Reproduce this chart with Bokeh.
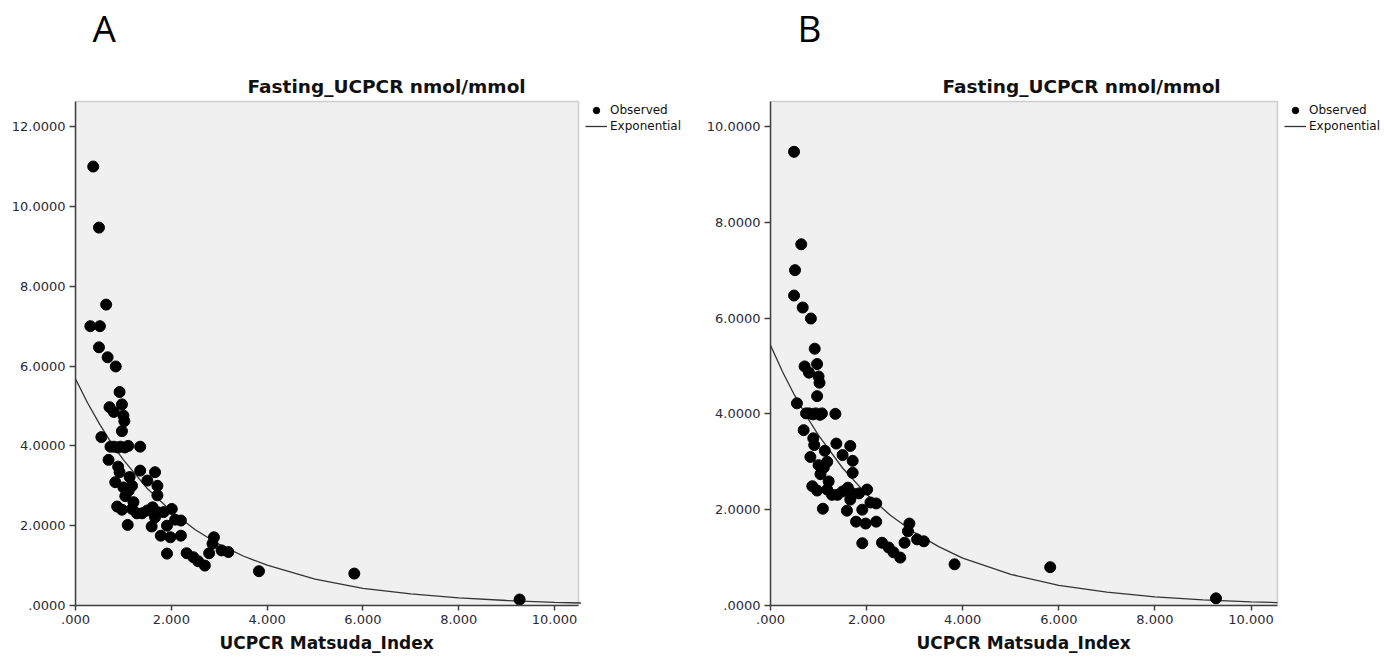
from bokeh.plotting import figure
from bokeh.models import (Range1d, FixedTicker, Legend, LegendItem, Title,
                          BoxAnnotation, Label)
from bokeh.layouts import row
from bokeh.embed import file_html
from bokeh.resources import INLINE

# ---------------- data ----------------
title_text = "Fasting_UCPCR nmol/mmol"
x_label = "UCPCR Matsuda_Index"
legend_labels = ["Observed", "Exponential"]
panel_letters = ["A", "B"]

x_ticks = [0, 2, 4, 6, 8, 10]
x_tick_labels = [".000", "2.000", "4.000", "6.000", "8.000", "10.000"]
y_ticks_a = [0, 2, 4, 6, 8, 10, 12]
y_tick_labels_a = [".0000", "2.0000", "4.0000", "6.0000", "8.0000", "10.0000", "12.0000"]
y_ticks_b = [0, 2, 4, 6, 8, 10]
y_tick_labels_b = [".0000", "2.0000", "4.0000", "6.0000", "8.0000", "10.0000"]

# Panel A observed points
obs_x_a = [0.37, 0.49, 0.64, 0.31, 0.51, 0.49, 0.67, 0.84, 0.92, 0.71, 0.80, 0.97,
           1.00, 1.02, 0.97, 0.54, 0.73, 0.80, 0.88, 0.94, 1.03, 1.10, 1.35, 0.69,
           0.89, 0.92, 0.83, 1.13, 1.35, 1.66, 1.50, 1.71, 1.71, 1.00, 1.11, 1.18,
           1.04, 1.21, 0.87, 0.97, 1.18, 1.28, 1.39, 1.50, 1.61, 1.71, 1.84, 2.01,
           1.66, 1.09, 1.59, 1.91, 2.08, 2.20, 1.78, 1.98, 2.20, 2.89, 2.86, 1.91,
           2.32, 2.46, 2.56, 2.70, 2.79, 3.05, 3.19, 3.83, 5.82, 9.27]
obs_y_a = [11.00, 9.47, 7.54, 7.00, 7.00, 6.47, 6.22, 5.99, 5.35, 4.97, 4.85, 5.04,
           4.76, 4.62, 4.37, 4.22, 3.98, 3.98, 3.96, 3.98, 3.96, 4.00, 3.98, 3.65,
           3.48, 3.34, 3.09, 3.22, 3.38, 3.34, 3.13, 3.00, 2.76, 2.96, 2.88, 3.00,
           2.74, 2.59, 2.48, 2.40, 2.42, 2.31, 2.31, 2.38, 2.46, 2.34, 2.34, 2.42,
           2.21, 2.02, 1.98, 2.00, 2.15, 2.13, 1.75, 1.71, 1.75, 1.71, 1.55, 1.30,
           1.31, 1.21, 1.11, 1.00, 1.31, 1.38, 1.34, 0.86, 0.80, 0.15]

# Panel B observed points
obs_x_b = [0.49, 0.64, 0.51, 0.49, 0.67, 0.84, 0.92, 0.71, 0.80, 0.97,
           1.00, 1.02, 0.97, 0.55, 0.74, 0.80, 0.88, 0.94, 1.03, 1.07, 1.35, 0.69,
           0.89, 0.91, 0.83, 1.13, 1.37, 1.66, 1.50, 1.71, 1.71, 1.00, 1.11, 1.18,
           1.04, 1.21, 0.87, 0.97, 1.18, 1.28, 1.39, 1.50, 1.61, 1.71, 1.84, 2.01,
           1.66, 1.09, 1.59, 1.91, 2.08, 2.20, 1.78, 1.98, 2.20, 2.89, 2.86, 1.91,
           2.32, 2.46, 2.56, 2.70, 2.79, 3.05, 3.19, 3.83, 5.82, 9.27]
obs_y_b = [9.47, 7.54, 7.00, 6.47, 6.22, 5.99, 5.36, 4.99, 4.86, 5.04,
           4.78, 4.65, 4.37, 4.22, 4.01, 4.01, 3.99, 4.01, 3.98, 4.01, 4.00, 3.66,
           3.49, 3.35, 3.10, 3.23, 3.38, 3.33, 3.14, 3.02, 2.77, 2.93, 2.88, 3.00,
           2.74, 2.59, 2.49, 2.40, 2.42, 2.31, 2.31, 2.38, 2.46, 2.34, 2.34, 2.42,
           2.21, 2.02, 1.98, 2.00, 2.15, 2.13, 1.75, 1.71, 1.75, 1.71, 1.55, 1.30,
           1.31, 1.21, 1.11, 1.00, 1.31, 1.38, 1.34, 0.86, 0.80, 0.15]

# Exponential fit curves
curve_x = [0, 0.25, 0.5, 0.75, 1, 1.5, 2, 2.5, 3, 3.5, 4, 5, 6, 7, 8, 9, 10, 10.55]
curve_y_a = [5.68, 5.08, 4.55, 4.07, 3.65, 2.93, 2.36, 1.90, 1.53, 1.24, 1.01,
             0.66, 0.43, 0.29, 0.19, 0.125, 0.08, 0.063]
curve_y_b = [5.43, 4.88, 4.39, 3.95, 3.55, 2.87, 2.32, 1.88, 1.52, 1.23, 0.99,
             0.65, 0.42, 0.28, 0.18, 0.118, 0.077, 0.062]

FONT = "DejaVu Sans"


def make_panel(letter, ox, oy, cy, yt, ytl, xmax, ymax, width, left, plot_w,
               letter_x, xlabel_offset):
    height = 658
    box_top = 101           # top of the grey plot box, px from top
    frame_h = 605           # frame runs from the page top to the x axis
    box_h = frame_h - box_top
    frame_w = width - left - 4
    x_end = xmax * frame_w / plot_w        # room on the right for the legend
    y_end = ymax * frame_h / box_h         # room above for title and letter
    p = figure(width=width, height=height, output_backend="svg",
               toolbar_location=None,
               x_range=Range1d(0, x_end), y_range=Range1d(0, y_end),
               min_border_left=left, min_border_right=4,
               min_border_top=0, min_border_bottom=height - frame_h)
    p.background_fill_color = "white"
    p.border_fill_color = "white"
    p.outline_line_color = None
    p.grid.visible = False

    p.add_layout(BoxAnnotation(left=0, right=xmax, bottom=0, top=ymax,
                               fill_color="#F0F0F0", fill_alpha=1,
                               line_color="#707070", line_width=1.5,
                               level="underlay"))

    # chart title and panel letter
    p.add_layout(Label(x=172, y=frame_h - 86, x_units="screen", y_units="screen",
                       text=title_text, text_font=FONT, text_font_size="18.5px",
                       text_font_style="bold", text_color="#111111",
                       text_baseline="alphabetic"))
    p.add_layout(Label(x=letter_x, y=frame_h - 27, x_units="screen",
                       y_units="screen", text=letter, text_font="Open Sans",
                       text_font_size="37px", text_color="black",
                       text_baseline="alphabetic"))

    p.xaxis.ticker = FixedTicker(ticks=x_ticks)
    p.xaxis.major_label_overrides = dict(zip(x_ticks, x_tick_labels))
    p.xaxis.bounds = (0, xmax)
    p.yaxis.ticker = FixedTicker(ticks=yt)
    p.yaxis.major_label_overrides = dict(zip(yt, ytl))
    p.yaxis.bounds = (0, ymax)
    for ax in (p.xaxis, p.yaxis):
        ax.axis_line_color = "#404040"
        ax.axis_line_width = 1.5
        ax.major_tick_line_color = "#404040"
        ax.major_tick_line_width = 1.5
        ax.major_tick_in = 0
        ax.major_tick_out = 6
        ax.minor_tick_line_color = None
        ax.major_label_text_font = FONT
        ax.major_label_text_font_size = "13px"
        ax.major_label_text_color = "#2a2a3a"
    p.yaxis.major_label_standoff = 4
    p.xaxis.major_tick_out = 5
    p.xaxis.major_label_standoff = 4

    p.add_layout(Title(text=x_label, align="left", offset=xlabel_offset,
                       standoff=9, text_font=FONT, text_font_size="17px",
                       text_font_style="bold", text_color="#111111"), "below")

    ln = p.line(curve_x, cy, line_color="#333333", line_width=1.3)
    sc = p.scatter(ox, oy, size=11, fill_color="black", line_color="black")

    legend = Legend(items=[LegendItem(label=legend_labels[0], renderers=[sc]),
                           LegendItem(label=legend_labels[1], renderers=[ln])],
                    location=(plot_w + 7, box_h - 33))
    legend.glyph_width = 22
    legend.glyph_height = 16
    legend.label_height = 16
    legend.spacing = 0
    legend.padding = 0
    legend.margin = 0
    legend.label_standoff = 3
    legend.label_text_font = FONT
    legend.label_text_font_size = "12px"
    legend.label_text_color = "#111111"
    legend.background_fill_alpha = 0
    legend.border_line_color = None
    p.add_layout(legend, "center")
    return p


pa = make_panel(panel_letters[0], obs_x_a, obs_y_a, curve_y_a, y_ticks_a,
                y_tick_labels_a, 10.5, 12.63, 692, 75, 503, 17, 144)
pb = make_panel(panel_letters[1], obs_x_b, obs_y_b, curve_y_b, y_ticks_b,
                y_tick_labels_b, 10.55, 10.52, 693, 78, 507, 27, 146)

layout = row(pa, pb)
open("out.html", "w").write(file_html(layout, INLINE))
